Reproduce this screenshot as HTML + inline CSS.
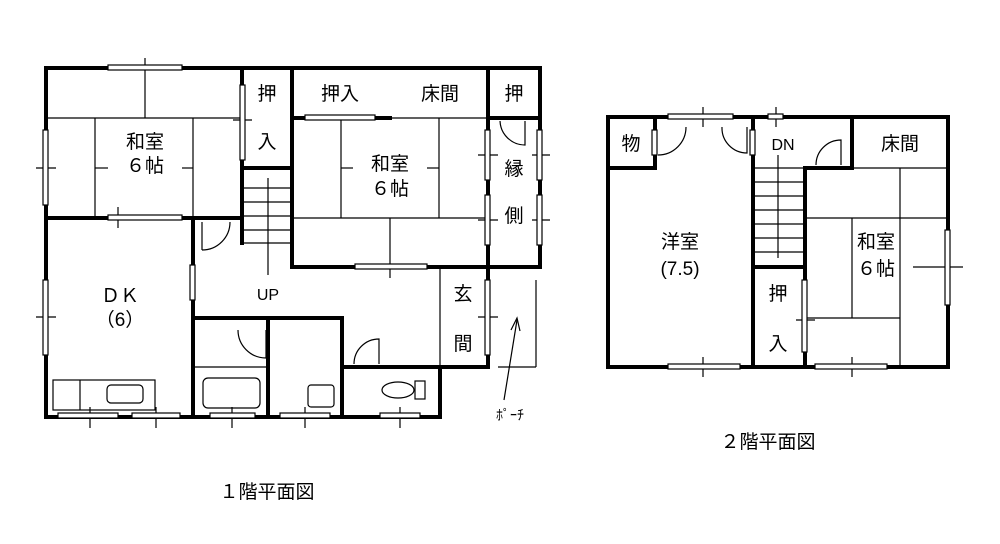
<!DOCTYPE html>
<html><head><meta charset="utf-8"><style>
body{margin:0;background:#fff}
svg{display:block}
text{font-family:"Liberation Sans","Noto Sans CJK JP",sans-serif;fill:#000}
</style></head><body>
<svg width="1000" height="544" viewBox="0 0 1000 544" xmlns="http://www.w3.org/2000/svg">
<g fill="none" stroke="#000" stroke-width="4" stroke-linecap="square">
<polyline points="46,68 540,68 540,267 488,267 488,367 440,367 440,417 46,417 46,68"/>
<line x1="46" y1="218" x2="242" y2="218"/>
<line x1="193" y1="218" x2="193" y2="417"/>
<line x1="242" y1="68" x2="242" y2="243"/>
<line x1="242" y1="168" x2="292" y2="168"/>
<polyline points="292,68 292,267 488,267"/>
<line x1="292" y1="118" x2="390" y2="118"/>
<line x1="488" y1="68" x2="488" y2="267"/>
<line x1="488" y1="118" x2="540" y2="118"/>
<line x1="193" y1="318" x2="342" y2="318"/>
<line x1="268" y1="318" x2="268" y2="417"/>
<polyline points="342,318 342,367 440,367"/>
<line x1="342" y1="367" x2="342" y2="417"/>
<rect x="608" y="117" width="340" height="250"/>
<polyline points="608,168 655,168 655,117"/>
<line x1="753" y1="117" x2="753" y2="367"/>
<line x1="753" y1="267" x2="805" y2="267"/>
<polyline points="805,367 805,168 852,168 852,117"/>
</g>
<g fill="none" stroke="#000" stroke-width="1.2">
<line x1="46" y1="118" x2="242" y2="118"/><line x1="145" y1="58" x2="145" y2="118"/>
<line x1="95" y1="118" x2="95" y2="218"/><line x1="193" y1="118" x2="193" y2="218"/>
<line x1="292" y1="118" x2="488" y2="118"/>
<line x1="341" y1="118" x2="341" y2="218"/><line x1="439" y1="118" x2="439" y2="218"/>
<line x1="292" y1="218" x2="488" y2="218"/><line x1="390" y1="218" x2="390" y2="278"/>
<line x1="95" y1="168" x2="108" y2="168"/><line x1="182" y1="168" x2="193" y2="168"/>
<line x1="341" y1="168" x2="353" y2="168"/><line x1="427" y1="168" x2="439" y2="168"/>
<line x1="242" y1="188" x2="292" y2="188"/><line x1="242" y1="202" x2="292" y2="202"/>
<line x1="242" y1="216" x2="292" y2="216"/><line x1="242" y1="230" x2="292" y2="230"/>
<line x1="242" y1="243" x2="292" y2="243"/>
<line x1="268" y1="178" x2="268" y2="275"/>
<line x1="193" y1="367" x2="268" y2="367"/>
<line x1="440" y1="267" x2="440" y2="367"/>
<rect x="53" y="380" width="102" height="30"/><line x1="80" y1="380" x2="80" y2="410"/>
<rect x="107" y="385" width="36" height="18" rx="4"/>
<rect x="203" y="378" width="57" height="30" rx="5"/>
<rect x="308" y="385" width="26" height="22" rx="3"/>
<ellipse cx="398" cy="390" rx="16" ry="8"/><rect x="415" y="381" width="10" height="18"/>
<line x1="536" y1="280" x2="536" y2="367"/><line x1="498" y1="367" x2="536" y2="367"/>
<line x1="504" y1="400" x2="517" y2="320"/><polyline points="511,330 517,318 520,331"/>
<path d="M202,250 L202,222 M202,250 A28,28 0 0 0 230,222"/>
<path d="M238,330 A28,28 0 0 0 266,358 M266,330 L266,358"/>
<path d="M354,364 A25,25 0 0 1 379,339 L379,364"/>
<path d="M500,121 A25,25 0 0 0 525,145 L525,121"/>
<line x1="805" y1="218" x2="948" y2="218"/><line x1="900" y1="168" x2="900" y2="367"/>
<line x1="852" y1="218" x2="852" y2="318"/><line x1="805" y1="318" x2="900" y2="318"/>
<line x1="852" y1="168" x2="948" y2="168"/>
<line x1="753" y1="168" x2="805" y2="168"/>
<line x1="753" y1="182" x2="805" y2="182"/><line x1="753" y1="196" x2="805" y2="196"/>
<line x1="753" y1="210" x2="805" y2="210"/><line x1="753" y1="224" x2="805" y2="224"/>
<line x1="753" y1="238" x2="805" y2="238"/><line x1="753" y1="252" x2="805" y2="252"/>
<line x1="778" y1="155" x2="778" y2="258"/>
<path d="M658,155 A28,28 0 0 0 686,127 M722,127 A25,25 0 0 0 747,153 L747,127 M816,165 A25,25 0 0 1 841,140 L841,165"/>
<!-- window cross ticks -->
<line x1="118" y1="207" x2="118" y2="228"/>
<line x1="36" y1="168" x2="56" y2="168"/><line x1="36" y1="317" x2="56" y2="317"/>
<line x1="90" y1="407" x2="90" y2="428"/><line x1="156" y1="407" x2="156" y2="428"/>
<line x1="232" y1="407" x2="232" y2="428"/><line x1="305" y1="407" x2="305" y2="428"/>
<line x1="400" y1="407" x2="400" y2="428"/>
<line x1="233" y1="120" x2="252" y2="120"/>
<line x1="478" y1="155" x2="498" y2="155"/><line x1="478" y1="220" x2="498" y2="220"/>
<line x1="532" y1="155" x2="550" y2="155"/><line x1="532" y1="220" x2="550" y2="220"/>
<line x1="478" y1="317" x2="498" y2="317"/>
<line x1="703" y1="107" x2="703" y2="127"/><line x1="776" y1="107" x2="776" y2="127"/>
<line x1="703" y1="357" x2="703" y2="377"/><line x1="852" y1="357" x2="852" y2="377"/>
<line x1="913" y1="267" x2="963" y2="267"/><line x1="796" y1="320" x2="815" y2="320"/>
</g>
<g fill="#fff" stroke="#000" stroke-width="1.2">
<rect x="108" y="65" width="74" height="5"/><rect x="108" y="215" width="74" height="5"/>
<rect x="43" y="130" width="5" height="75"/><rect x="43" y="280" width="5" height="75"/>
<rect x="190" y="265" width="5" height="35"/>
<rect x="58" y="413" width="60" height="5"/><rect x="132" y="413" width="48" height="5"/>
<rect x="210" y="413" width="45" height="5"/><rect x="280" y="413" width="50" height="5"/>
<rect x="380" y="413" width="40" height="5"/><rect x="240" y="85" width="5" height="75"/>
<rect x="355" y="264" width="72" height="5"/><rect x="305" y="115" width="70" height="5"/>
<rect x="485" y="130" width="5" height="50"/><rect x="485" y="195" width="5" height="50"/>
<rect x="537" y="130" width="5" height="50"/><rect x="537" y="195" width="5" height="50"/>
<rect x="485" y="280" width="5" height="75"/>
<rect x="668" y="114" width="65" height="5"/><rect x="768" y="114" width="15" height="5"/>
<rect x="668" y="364" width="72" height="5"/><rect x="815" y="364" width="72" height="5"/>
<rect x="945" y="230" width="5" height="75"/><rect x="802" y="280" width="5" height="72"/>
<rect x="652" y="130" width="5" height="25"/><rect x="750" y="130" width="5" height="25"/>
</g>
<g font-size="19" text-anchor="middle">
<text x="145" y="148">和室</text><text x="145" y="172">６帖</text>
<text x="390" y="170">和室</text><text x="390" y="195">６帖</text>
<text x="120" y="302">ＤＫ</text><text x="120" y="326">（6）</text>
<text x="267" y="100">押</text><text x="267" y="148">入</text>
<text x="340" y="100">押入</text><text x="440" y="100">床間</text><text x="514" y="100">押</text>
<text x="514" y="175">縁</text><text x="514" y="222">側</text>
<text x="463" y="300">玄</text><text x="463" y="350">間</text>
<text x="268" y="300" font-size="16">UP</text>
<text x="510" y="420" font-size="14">ﾎﾟｰﾁ</text>
<text x="631" y="150">物</text><text x="783" y="150" font-size="16">DN</text>
<text x="900" y="150">床間</text>
<text x="680" y="248">洋室</text><text x="680" y="275">(7.5)</text>
<text x="876" y="248">和室</text><text x="876" y="275">６帖</text>
<text x="778" y="300">押</text><text x="778" y="350">入</text>
<text x="267" y="498">１階平面図</text><text x="768" y="448">２階平面図</text>
</g>
</svg>
</body></html>
